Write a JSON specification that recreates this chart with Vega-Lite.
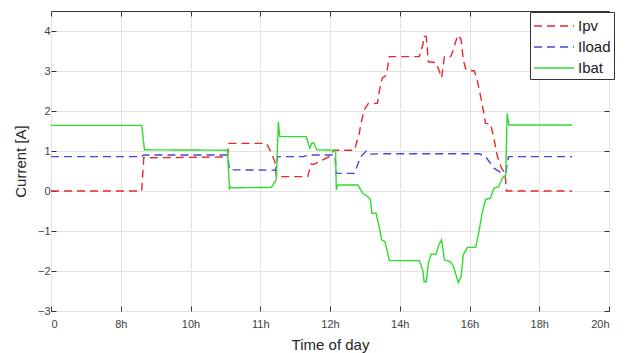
{
 "$schema": "https://vega.github.io/schema/vega-lite/v6.json",
 "width": 558, "height": 300,
 "autosize": {"type": "none"},
 "padding": {"left": 51, "top": 11, "right": 20, "bottom": 42},
 "background": "white",
 "config": {"view": {"stroke": "#333333", "strokeWidth": 1}, "font": "Liberation Sans"},
 "data": {"values": [
  {"s":"Ipv","t":0,"v":0},{"s":"Ipv","t":1.30,"v":0},{"s":"Ipv","t":1.33,"v":0.83},{"s":"Ipv","t":2.53,"v":0.85},{"s":"Ipv","t":2.55,"v":1.19},{"s":"Ipv","t":3.09,"v":1.19},{"s":"Ipv","t":3.16,"v":0.95},{"s":"Ipv","t":3.21,"v":0.73},{"s":"Ipv","t":3.23,"v":0.36},{"s":"Ipv","t":3.68,"v":0.36},{"s":"Ipv","t":3.73,"v":0.68},{"s":"Ipv","t":3.76,"v":0.66},{"s":"Ipv","t":3.99,"v":0.86},{"s":"Ipv","t":4.06,"v":1.02},{"s":"Ipv","t":4.35,"v":1.02},{"s":"Ipv","t":4.42,"v":1.44},{"s":"Ipv","t":4.44,"v":1.65},{"s":"Ipv","t":4.49,"v":2.03},{"s":"Ipv","t":4.55,"v":2.19},{"s":"Ipv","t":4.68,"v":2.19},{"s":"Ipv","t":4.71,"v":2.53},{"s":"Ipv","t":4.75,"v":2.82},{"s":"Ipv","t":4.81,"v":2.9},{"s":"Ipv","t":4.85,"v":3.36},{"s":"Ipv","t":5.28,"v":3.36},{"s":"Ipv","t":5.33,"v":3.65},{"s":"Ipv","t":5.35,"v":3.87},{"s":"Ipv","t":5.38,"v":3.86},{"s":"Ipv","t":5.41,"v":3.23},{"s":"Ipv","t":5.52,"v":3.21},{"s":"Ipv","t":5.56,"v":3.03},{"s":"Ipv","t":5.60,"v":2.83},{"s":"Ipv","t":5.64,"v":3.36},{"s":"Ipv","t":5.73,"v":3.36},{"s":"Ipv","t":5.77,"v":3.53},{"s":"Ipv","t":5.80,"v":3.73},{"s":"Ipv","t":5.84,"v":3.9},{"s":"Ipv","t":5.88,"v":3.78},{"s":"Ipv","t":5.91,"v":3.28},{"s":"Ipv","t":5.95,"v":3.03},{"s":"Ipv","t":6.07,"v":3.0},{"s":"Ipv","t":6.11,"v":2.78},{"s":"Ipv","t":6.16,"v":2.36},{"s":"Ipv","t":6.21,"v":1.9},{"s":"Ipv","t":6.23,"v":1.69},{"s":"Ipv","t":6.30,"v":1.68},{"s":"Ipv","t":6.34,"v":1.4},{"s":"Ipv","t":6.40,"v":0.86},{"s":"Ipv","t":6.46,"v":0.57},{"s":"Ipv","t":6.51,"v":0.44},{"s":"Ipv","t":6.53,"v":0},{"s":"Ipv","t":7.47,"v":0},
  {"s":"Iload","t":0,"v":0.86},{"s":"Iload","t":1.30,"v":0.86},{"s":"Iload","t":1.33,"v":0.9},{"s":"Iload","t":2.53,"v":0.9},{"s":"Iload","t":2.56,"v":0.53},{"s":"Iload","t":3.22,"v":0.52},{"s":"Iload","t":3.25,"v":0.86},{"s":"Iload","t":3.62,"v":0.86},{"s":"Iload","t":3.70,"v":0.9},{"s":"Iload","t":4.07,"v":0.9},{"s":"Iload","t":4.09,"v":0.44},{"s":"Iload","t":4.35,"v":0.44},{"s":"Iload","t":4.44,"v":0.86},{"s":"Iload","t":4.52,"v":1.0},{"s":"Iload","t":4.56,"v":0.92},{"s":"Iload","t":4.70,"v":0.93},{"s":"Iload","t":6.14,"v":0.93},{"s":"Iload","t":6.23,"v":0.86},{"s":"Iload","t":6.35,"v":0.57},{"s":"Iload","t":6.45,"v":0.46},{"s":"Iload","t":6.52,"v":0.46},{"s":"Iload","t":6.56,"v":0.86},{"s":"Iload","t":7.47,"v":0.86},
  {"s":"Ibat","t":0,"v":1.64},{"s":"Ibat","t":1.30,"v":1.64},{"s":"Ibat","t":1.34,"v":1.03},{"s":"Ibat","t":2.53,"v":1.02},{"s":"Ibat","t":2.56,"v":0.03},{"s":"Ibat","t":2.565,"v":0.12},{"s":"Ibat","t":2.58,"v":0.08},{"s":"Ibat","t":3.16,"v":0.09},{"s":"Ibat","t":3.23,"v":0.28},{"s":"Ibat","t":3.26,"v":1.73},{"s":"Ibat","t":3.28,"v":1.36},{"s":"Ibat","t":3.66,"v":1.36},{"s":"Ibat","t":3.71,"v":1.07},{"s":"Ibat","t":3.74,"v":1.2},{"s":"Ibat","t":3.77,"v":1.2},{"s":"Ibat","t":3.81,"v":1.03},{"s":"Ibat","t":4.08,"v":1.02},{"s":"Ibat","t":4.09,"v":0.03},{"s":"Ibat","t":4.11,"v":0.15},{"s":"Ibat","t":4.40,"v":0.15},{"s":"Ibat","t":4.47,"v":-0.06},{"s":"Ibat","t":4.54,"v":-0.14},{"s":"Ibat","t":4.58,"v":-0.22},{"s":"Ibat","t":4.60,"v":-0.56},{"s":"Ibat","t":4.66,"v":-0.55},{"s":"Ibat","t":4.71,"v":-0.93},{"s":"Ibat","t":4.74,"v":-1.22},{"s":"Ibat","t":4.79,"v":-1.27},{"s":"Ibat","t":4.85,"v":-1.74},{"s":"Ibat","t":5.28,"v":-1.74},{"s":"Ibat","t":5.33,"v":-1.98},{"s":"Ibat","t":5.35,"v":-2.27},{"s":"Ibat","t":5.38,"v":-2.27},{"s":"Ibat","t":5.41,"v":-1.81},{"s":"Ibat","t":5.45,"v":-1.58},{"s":"Ibat","t":5.52,"v":-1.58},{"s":"Ibat","t":5.56,"v":-1.35},{"s":"Ibat","t":5.60,"v":-1.22},{"s":"Ibat","t":5.64,"v":-1.72},{"s":"Ibat","t":5.73,"v":-1.77},{"s":"Ibat","t":5.77,"v":-1.89},{"s":"Ibat","t":5.80,"v":-2.06},{"s":"Ibat","t":5.84,"v":-2.29},{"s":"Ibat","t":5.88,"v":-2.14},{"s":"Ibat","t":5.91,"v":-1.6},{"s":"Ibat","t":5.95,"v":-1.47},{"s":"Ibat","t":5.97,"v":-1.41},{"s":"Ibat","t":6.09,"v":-1.41},{"s":"Ibat","t":6.14,"v":-0.97},{"s":"Ibat","t":6.18,"v":-0.56},{"s":"Ibat","t":6.23,"v":-0.21},{"s":"Ibat","t":6.30,"v":-0.18},{"s":"Ibat","t":6.35,"v":0.07},{"s":"Ibat","t":6.42,"v":0.11},{"s":"Ibat","t":6.47,"v":0.32},{"s":"Ibat","t":6.52,"v":0.4},{"s":"Ibat","t":6.54,"v":1.94},{"s":"Ibat","t":6.565,"v":1.65},{"s":"Ibat","t":7.47,"v":1.65}
 ]},
 "resolve": {"axis": {"x": "independent", "y": "independent"}},
 "layer": [
  {
   "mark": {"type": "line", "strokeWidth": 1.4, "clip": true},
   "encoding": {
    "x": {"field": "t", "type": "quantitative",
      "scale": {"domain": [0, 8], "nice": false, "zero": false},
      "axis": {"title": "Time of day", "values": [0,1,2,3,4,5,6,7,8],
        "labelExpr": "['0','8h','10h','11h','12h','14h','16h','18h','20h'][datum.value]",
        "grid": true, "gridColor": "#e3e3e3", "domain": false,
        "tickSize": -5, "tickColor": "#333333", "labelPadding": 12,
        "labelFontSize": 11, "labelColor": "#404040",
        "titleFontSize": 15, "titleFontWeight": "normal", "titleColor": "#262626", "titlePadding": 8}},
    "y": {"field": "v", "type": "quantitative",
      "scale": {"domain": [-3, 4.5], "nice": false, "zero": false},
      "axis": {"title": "Current [A]", "values": [-3,-2,-1,0,1,2,3,4], "format": "d",
        "grid": true, "gridColor": "#e3e3e3", "domain": false,
        "tickSize": -5, "tickColor": "#333333", "labelPadding": 6,
        "labelFontSize": 11, "labelColor": "#404040",
        "titleFontSize": 15, "titleFontWeight": "normal", "titleColor": "#262626", "titlePadding": 9}},
    "color": {"field": "s", "type": "nominal",
      "scale": {"domain": ["Ipv", "Iload", "Ibat"], "range": ["#e8282c", "#4646dc", "#2fdc2f"]},
      "legend": {"title": null, "orient": "none", "legendX": 479, "legendY": 1,
        "strokeColor": "#333333", "fillColor": "white", "padding": 3,
        "symbolType": "M-1,0H3", "symbolSize": 400, "symbolStrokeWidth": 1.4,
        "labelFontSize": 15, "labelColor": "#1a1a1a", "labelOffset": 23, "rowPadding": 2}},
    "strokeDash": {"field": "s", "type": "nominal",
      "scale": {"domain": ["Ipv", "Iload", "Ibat"], "range": [[8, 5], [8, 5], [1, 0]]},
      "legend": {"title": null, "orient": "none", "legendX": 479, "legendY": 1,
        "strokeColor": "#333333", "fillColor": "white", "padding": 3,
        "symbolType": "M-1,0H3", "symbolSize": 400, "symbolStrokeWidth": 1.4,
        "labelFontSize": 15, "labelColor": "#1a1a1a", "labelOffset": 23, "rowPadding": 2}}
   }
  },
  {
   "mark": {"type": "point", "opacity": 0},
   "encoding": {
    "x": {"field": "t", "type": "quantitative",
      "axis": {"orient": "top", "title": null, "labels": false, "grid": false, "domain": false,
        "values": [0,1,2,3,4,5,6,7,8], "tickSize": -5, "tickColor": "#333333"}},
    "y": {"field": "v", "type": "quantitative",
      "axis": {"orient": "right", "title": null, "labels": false, "grid": false, "domain": false,
        "values": [-3,-2,-1,0,1,2,3,4], "tickSize": -5, "tickColor": "#333333"}}
   }
  }
 ]
}
